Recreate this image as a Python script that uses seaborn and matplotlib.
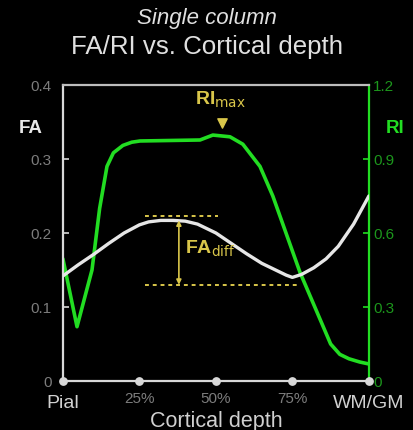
import matplotlib
matplotlib.use("Agg")
import matplotlib.pyplot as plt
import matplotlib.transforms as mtransforms
import seaborn as sns
import pandas as pd

# ---- data ----
fa_depth = [0, 5, 10, 15, 20, 25, 28, 32, 36, 40, 44, 50, 55, 60, 65, 70, 73, 75, 78, 82, 86, 90, 95, 100]
fa_values = [0.142, 0.157, 0.171, 0.186, 0.200, 0.211, 0.215, 0.217, 0.217, 0.216, 0.212,
             0.200, 0.186, 0.172, 0.159, 0.149, 0.143, 0.140, 0.144, 0.153, 0.165, 0.182, 0.212, 0.250]

ri_depth = [0, 4.6, 9.5, 12.0, 14.4, 16.5, 19.6, 22.5, 25.2, 44.8, 49, 54.6, 58.8, 64.4, 68.6,
            77.5, 87.5, 90.5, 93.5, 97, 100]
ri_values = [0.495, 0.22, 0.45, 0.70, 0.87, 0.925, 0.955, 0.968, 0.973, 0.977, 0.997, 0.99,
             0.96, 0.87, 0.75, 0.44, 0.15, 0.108, 0.09, 0.077, 0.069]

x_ticks = [0, 25, 50, 75, 100]
x_ticklabels = ["Pial", "25%", "50%", "75%", "WM/GM"]
fa_ticks = [0, 0.1, 0.2, 0.3, 0.4]
fa_ticklabels = ["0", "0.1", "0.2", "0.3", "0.4"]
ri_ticks = [0, 0.3, 0.6, 0.9, 1.2]
ri_ticklabels = ["0", "0.3", "0.6", "0.9", "1.2"]

fa_diff_top = 0.223
fa_diff_bottom = 0.130
fa_diff_x = 37.9
ri_max_x = 52.0

sns.set_theme(style="dark")
plt.rcParams["font.family"] = ["Liberation Sans", "DejaVu Sans"]

BG = "black"
WHITE = "#e6e6e6"
GREEN = "#22dd22"
YELLOW = "#d9c64a"
GREY = "#7c7c7c"

fig = plt.figure(figsize=(4.14, 4.31), dpi=100, facecolor=BG)
ax = fig.add_axes([0.152, 0.1137, 0.739, 0.6868])
ax.set_facecolor(BG)
ax2 = ax.twinx()

fa_df = pd.DataFrame({"depth": fa_depth, "FA": fa_values})
ri_df = pd.DataFrame({"depth": ri_depth, "RI": ri_values})

sns.lineplot(data=ri_df, x="depth", y="RI", ax=ax2, color=GREEN, linewidth=2.6, zorder=3)
sns.lineplot(data=fa_df, x="depth", y="FA", ax=ax, color=WHITE, linewidth=2.4, zorder=3)
ax.set_zorder(ax2.get_zorder() + 1)
ax.patch.set_visible(False)
ax2.patch.set_visible(True)
ax2.set_facecolor(BG)

ax.set_xlim(0, 100)
ax.set_ylim(0, 0.4)
ax2.set_ylim(0, 1.2)

for a in (ax, ax2):
    a.grid(False)
    a.set_xlabel("")
    a.set_ylabel("")

for name, sp in ax.spines.items():
    sp.set_visible(name in ("left", "bottom", "top"))
    sp.set_color("#d8d8d8")
    sp.set_linewidth(1.6)
ax.spines["top"].set_color("#bdbdbd")
for name, sp in ax2.spines.items():
    sp.set_visible(name == "right")
ax2.spines["right"].set_color(GREEN)
ax2.spines["right"].set_linewidth(1.6)

ax.set_xticks(x_ticks)
ax.set_xticklabels(x_ticklabels)
ax.set_yticks(fa_ticks)
ax.set_yticklabels(fa_ticklabels)
ax2.set_yticks(ri_ticks)
ax2.set_yticklabels(ri_ticklabels)

ax.tick_params(axis="y", direction="in", length=4, width=1.2, color="#d8d8d8",
               labelcolor=GREY, labelsize=11, pad=8, left=True)
ax.tick_params(axis="x", direction="in", length=0, labelcolor=GREY, labelsize=11, pad=7, bottom=True)
ax2.tick_params(axis="y", direction="in", length=4, width=1.2, color=GREEN,
                labelcolor="#1c961c", labelsize=11, pad=3, right=True)

shift = mtransforms.ScaledTranslation(0, -2.5 / 72, fig.dpi_scale_trans)
for lab in ax.get_xticklabels():
    if lab.get_text() in ("Pial", "WM/GM"):
        lab.set_color("#d0d0d0")
        lab.set_fontsize(14)
        lab.set_transform(lab.get_transform() + shift)

ax.scatter(x_ticks, [0] * len(x_ticks), s=28, color="#d8d8d8", zorder=5, clip_on=False)

ax.set_xlabel("Cortical depth", color="#d0d0d0", fontsize=15.5, va="center")
ax.xaxis.set_label_coords(0.5, -0.133)

fig.text(0.075, 0.703, "FA", color="#e8e8e8", fontsize=13.5, fontweight="bold", ha="center", va="center")
fig.text(0.955, 0.703, "RI", color=GREEN, fontsize=13.5, fontweight="bold", ha="center", va="center")

fig.text(0.5, 0.958, "Single column", color="#e0e0e0", fontsize=16, style="italic",
         ha="center", va="center")
fig.text(0.5, 0.891, "FA/RI vs. Cortical depth", color="#e0e0e0", fontsize=18.6,
         ha="center", va="center")

ax.hlines(fa_diff_top, 26.8, 50.6, colors=YELLOW, linestyles=(0, (2, 2)), linewidth=1.4, zorder=4)
ax.hlines(fa_diff_bottom, 26.8, 76.5, colors=YELLOW, linestyles=(0, (2, 2)), linewidth=1.4, zorder=4)
ax.annotate("", xy=(fa_diff_x, fa_diff_bottom), xytext=(fa_diff_x, fa_diff_top - 0.006),
            arrowprops=dict(arrowstyle="<|-|>", color=YELLOW, lw=1.2, mutation_scale=7,
                            shrinkA=0, shrinkB=0), zorder=4)
ax.text(fa_diff_x + 2.0, 0.180, r"FA$_{\mathrm{diff}}$", color=YELLOW, fontsize=14,
        fontweight="bold", ha="left", va="center")
ax.text(ri_max_x - 0.5, 0.381, r"RI$_{\mathrm{max}}$", color=YELLOW, fontsize=14,
        fontweight="bold", ha="center", va="center")
ax.scatter([ri_max_x], [0.348], marker="v", s=45, color=YELLOW, zorder=5)

fig.savefig("out.png", dpi=100, facecolor=BG)
